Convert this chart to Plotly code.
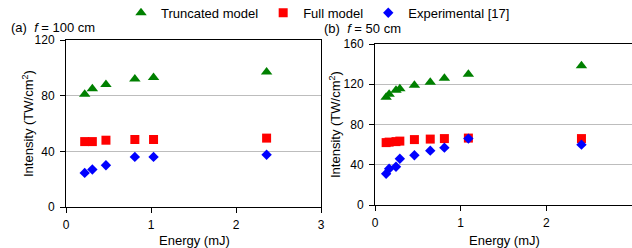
import plotly.graph_objects as go

W, H = 632, 248

# ---- data ----
energy_a = [0.22, 0.31, 0.47, 0.81, 1.03, 2.36]
truncated_a = [81, 85, 88, 92, 93, 97]
full_a = [47, 47, 48, 48.5, 48.5, 49.5]
experimental_a = [24.5, 27, 30, 36, 36, 37.5]

energy_b = [0.13, 0.165, 0.245, 0.29, 0.46, 0.645, 0.81, 1.09, 2.41]
truncated_b = [107, 110, 114, 115.5, 119, 122, 126, 130, 138.5]
full_b = [62, 62.5, 63, 63.5, 65, 65.5, 66, 66.5, 66]
experimental_b = [31, 36, 38, 46, 49.5, 54, 57, 66, 60]

series_names = ["Truncated model", "Full model", "Experimental [17]"]
x_ticks = [0, 1, 2, 3]
y_ticks_a = [0, 40, 80, 120]
y_ticks_b = [0, 40, 80, 120, 160]

GREEN = "#008000"
RED = "#ff0000"
BLUE = "#0000ff"
FONT = "Liberation Sans, Arial, sans-serif"

def px(x):
    return x / W

def py(y):
    return 1 - y / H

fig = go.Figure()

styles = [
    dict(symbol="triangle-up", color=GREEN, size=10),
    dict(symbol="square", color=RED, size=9),
    dict(symbol="diamond", color=BLUE, size=8),
]

for name, ys, st in zip(series_names, [truncated_a, full_a, experimental_a], styles):
    fig.add_trace(go.Scatter(x=energy_a, y=ys, mode="markers", name=name,
                             marker=dict(symbol=st["symbol"], color=st["color"], size=st["size"]),
                             xaxis="x", yaxis="y", showlegend=True))
for name, ys, st in zip(series_names, [truncated_b, full_b, experimental_b], styles):
    fig.add_trace(go.Scatter(x=energy_b, y=ys, mode="markers", name=name,
                             marker=dict(symbol=st["symbol"], color=st["color"], size=st["size"]),
                             xaxis="x2", yaxis="y2", showlegend=False))

axis_common = dict(showline=True, linecolor="black", linewidth=1, mirror=True,
                   ticks="outside", ticklen=5, tickcolor="black", tickwidth=1,
                   zeroline=False, automargin=False,
                   tickfont=dict(size=12, color="black", family=FONT))

fig.update_layout(
    width=W, height=H,
    margin=dict(l=0, r=0, t=0, b=0, pad=0, autoexpand=False),
    paper_bgcolor="white", plot_bgcolor="white",
    font=dict(family=FONT, size=13, color="black"),
    xaxis=dict(domain=[px(66), px(321)], range=[0, 3], tickvals=x_ticks, showgrid=False,
               anchor="y", ticklabelstandoff=2, **axis_common),
    yaxis=dict(domain=[py(207), py(40)], range=[0, 120], tickvals=y_ticks_a, showgrid=True,
               gridcolor="#bdbdbd", gridwidth=1, anchor="x", ticklabelstandoff=3, **axis_common),
    xaxis2=dict(domain=[px(375), 1.0], range=[0, 3], tickvals=x_ticks, showgrid=False,
                anchor="y2", ticklabelstandoff=2, **axis_common),
    yaxis2=dict(domain=[py(205), py(44)], range=[0, 160], tickvals=y_ticks_b, showgrid=True,
                gridcolor="#bdbdbd", gridwidth=1, anchor="x2", ticklabelstandoff=3, **axis_common),
    legend=dict(orientation="h", x=px(318), xanchor="center", y=1.009, yanchor="top",
                xref="paper", yref="paper",
                font=dict(size=13, family=FONT, color="black"), itemwidth=30,
                bgcolor="rgba(0,0,0,0)", borderwidth=0),
)

ann = dict(showarrow=False, xref="paper", yref="paper", font=dict(size=13, family=FONT, color="black"))
fig.add_annotation(text="(a)  <i>f</i> = 100 cm", x=px(9), y=py(27.5), xanchor="left", yanchor="middle", **ann)
fig.add_annotation(text="(b)  <i>f</i> = 50 cm", x=px(322), y=py(28), xanchor="left", yanchor="middle", **ann)
fig.add_annotation(text="Energy (mJ)", x=px(194), y=py(240), xanchor="center", yanchor="middle", **ann)
fig.add_annotation(text="Energy (mJ)", x=px(504), y=py(240), xanchor="center", yanchor="middle", **ann)
fig.add_annotation(text="Intensity (TW/cm<sup>2</sup>)", textangle=-90, x=px(28), y=py(124),
                   xanchor="center", yanchor="middle", **ann)
fig.add_annotation(text="Intensity (TW/cm<sup>2</sup>)", textangle=-90, x=px(335), y=py(125),
                   xanchor="center", yanchor="middle", **ann)

fig.write_html("out.html", config={"displayModeBar": False},
               post_script="document.body.style.margin='0';document.body.style.overflow='hidden';")
